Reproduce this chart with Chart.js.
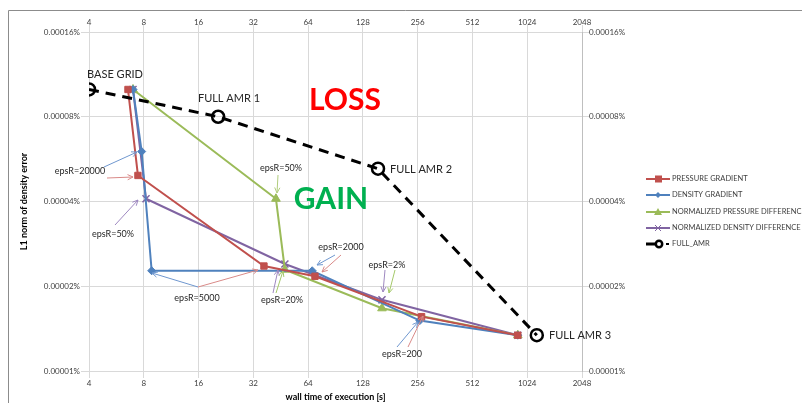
<!DOCTYPE html>
<html>
<head>
<meta charset="utf-8">
<script src="https://cdn.jsdelivr.net/npm/chart.js@4.4.1/dist/chart.umd.min.js"></script>
<style>
  html, body { margin: 0; padding: 0; background: #fff; }
  canvas { display: block; }
</style>
</head>
<body>
<canvas id="grafico" width="802" height="403"></canvas>
<script>
// wall time [s] and L1 error [%]
const timeTicks = [4, 8, 16, 32, 64, 128, 256, 512, 1024, 2048];
const errTicks = [0.00001, 0.00002, 0.00004, 0.00008, 0.00016];

const pressureX = [6.55, 7.43, 36.6, 69.8, 269, 909];
const pressureY = [0.0001, 0.0000495, 0.0000236, 0.0000217, 0.0000156, 0.0000134];
const densityX = [6.98, 7.79, 8.84, 67.4, 263, 909];
const densityY = [0.0001, 0.0000602, 0.0000227, 0.0000227, 0.0000151, 0.0000134];
const normPressX = [6.98, 42.6, 47.7, 163, 909];
const normPressY = [0.0001, 0.0000409, 0.0000229, 0.0000167, 0.0000134];
const normDensX = [6.98, 8.23, 47.7, 163, 909];
const normDensY = [0.0001, 0.0000409, 0.000024, 0.0000179, 0.0000134];
const amrX = [4, 20.5, 155, 1156];
const amrY = [0.0001, 0.00008, 0.0000523, 0.0000134];

const seriesNames = ['PRESSURE GRADIENT', 'DENSITY GRADIENT', 'NORMALIZED PRESSURE DIFFERENCE', 'NORMALIZED DENSITY DIFFERENCE', 'FULL_AMR'];
const cores = ['#C0504D', '#4F81BD', '#9BBB59', '#8064A2', '#000000'];

const pts = (xs, ys) => xs.map((x, i) => ({ x: x, y: ys[i] }));
const FONTE = 'Lato, "Open Sans", sans-serif';

// text labels and arrows drawn on top of the plot
const textos = [
    { t: 'BASE GRID', x: 115, y: 74, size: 11, align: 'center' },
    { t: 'FULL AMR 1', x: 229, y: 98, size: 11, align: 'center' },
    { t: 'FULL AMR 2', x: 390, y: 169, size: 11, align: 'left' },
    { t: 'FULL AMR 3', x: 549, y: 335, size: 11, align: 'left' },
    { t: 'LOSS', x: 345, y: 100, size: 30, align: 'center', bold: true, color: '#FF0000' },
    { t: 'GAIN', x: 331, y: 199, size: 30, align: 'center', bold: true, color: '#00B050' },
    { t: 'epsR=20000', x: 80, y: 171, size: 9, align: 'center' },
    { t: 'epsR=50%', x: 113, y: 234, size: 9, align: 'center' },
    { t: 'epsR=50%', x: 281, y: 168, size: 9, align: 'center' },
    { t: 'epsR=5000', x: 197, y: 298, size: 9, align: 'center' },
    { t: 'epsR=20%', x: 282, y: 300, size: 9, align: 'center' },
    { t: 'epsR=2000', x: 341, y: 247, size: 9, align: 'center' },
    { t: 'epsR=2%', x: 387, y: 265, size: 9, align: 'center' },
    { t: 'epsR=200', x: 402, y: 354, size: 9, align: 'center' }
];
const setas = [
    [104, 167, 137, 152, '#6f97cf'], [107, 178, 133, 177, '#d98a88'],
    [115, 225, 138, 200, '#9e88c0'], [278, 175, 277, 193, '#b0cc7c'],
    [198, 287, 152, 273, '#6f97cf'], [198, 287, 258, 270, '#d98a88'],
    [273, 293, 278, 270, '#9e88c0'], [276, 293, 283, 271, '#a5c96a'],
    [335, 255, 317, 265, '#6f97cf'], [341, 255, 322, 272, '#d98a88'],
    [385, 270, 383, 292, '#9e88c0'], [395, 270, 389, 293, '#a5c96a'],
    [397, 347, 418, 322, '#6f97cf'], [408, 347, 423, 316, '#d98a88']
];

const moldura = {
    id: 'moldura',
    beforeDraw(chart) {
        const c = chart.ctx;
        c.save();
        c.strokeStyle = '#8c8c8c';
        c.lineWidth = 1;
        c.beginPath();
        c.moveTo(8.5, 403); c.lineTo(8.5, 10.5); c.lineTo(802, 10.5);
        c.stroke();
        c.restore();
    }
};

const anotacoes = {
    id: 'anotacoes',
    afterDatasetsDraw(chart) {
        const c = chart.ctx;
        c.save();
        setas.forEach(([x1, y1, x2, y2, cor]) => {
            c.strokeStyle = cor;
            c.lineWidth = 1;
            c.beginPath(); c.moveTo(x1, y1); c.lineTo(x2, y2); c.stroke();
            const a = Math.atan2(y2 - y1, x2 - x1);
            c.beginPath();
            c.moveTo(x2 - 6 * Math.cos(a - 0.45), y2 - 6 * Math.sin(a - 0.45));
            c.lineTo(x2, y2);
            c.lineTo(x2 - 6 * Math.cos(a + 0.45), y2 - 6 * Math.sin(a + 0.45));
            c.stroke();
        });
        textos.forEach(o => {
            c.font = (o.bold ? 'bold ' : '') + o.size + 'px ' + FONTE;
            c.fillStyle = o.color || '#262626';
            c.textAlign = o.align;
            c.textBaseline = 'middle';
            c.fillText(o.t, o.x, o.y);
        });
        c.restore();
    }
};

const legenda = {
    id: 'legenda',
    afterDraw(chart) {
        const c = chart.ctx;
        const ys = [179, 195, 212, 228, 244];
        c.save();
        c.font = '7.5px ' + FONTE;
        c.textBaseline = 'middle';
        c.textAlign = 'left';
        seriesNames.forEach((nome, i) => {
            const y = ys[i];
            const cor = cores[i];
            c.strokeStyle = cor;
            c.fillStyle = cor;
            if (i < 4) {
                c.lineWidth = 2;
                c.beginPath(); c.moveTo(646, y); c.lineTo(670, y); c.stroke();
                if (i === 0) c.fillRect(655, y - 3.5, 7, 7);
                if (i === 1) { c.beginPath(); c.moveTo(658, y - 3); c.lineTo(661, y); c.lineTo(658, y + 3); c.lineTo(655, y); c.closePath(); c.fill(); }
                if (i === 2) { c.beginPath(); c.moveTo(658, y - 4); c.lineTo(662, y + 3); c.lineTo(654, y + 3); c.closePath(); c.fill(); }
                if (i === 3) { c.lineWidth = 1; c.beginPath(); c.moveTo(655, y - 3); c.lineTo(661, y + 3); c.moveTo(661, y - 3); c.lineTo(655, y + 3); c.stroke(); }
                c.fillStyle = '#404040';
                c.fillText(nome, 672, y);
            } else {
                c.lineWidth = 3;
                c.beginPath(); c.moveTo(646, y); c.lineTo(655, y); c.stroke();
                c.lineWidth = 2.5;
                c.beginPath(); c.arc(659, y, 3.2, 0, Math.PI * 2); c.stroke();
                c.fillRect(666, y - 1, 3, 2);
                c.fillStyle = '#404040';
                c.fillText(nome, 672, y);
            }
        });
        c.restore();
    }
};

const fixTicks = vals => scale => { scale.ticks = vals.map(v => ({ value: v })); };
const fitH = s => { s.height = 32; s.paddingLeft = 0; s.paddingRight = 0; };
const grade = '#d9d9d9';
const tickFont = { family: FONTE, size: 8 };

const conjuntos = [
    { x: pressureX, y: pressureY, style: 'rect', r: 4.5, bw: 2 },
    { x: densityX, y: densityY, style: 'rectRot', r: 4, bw: 2 },
    { x: normPressX, y: normPressY, style: 'triangle', r: 5, bw: 2 },
    { x: normDensX, y: normDensY, style: 'crossRot', r: 5, bw: 2 },
    { x: amrX, y: amrY, style: 'circle', r: 6, bw: 3 }
].map((s, i) => ({
    label: seriesNames[i],
    data: pts(s.x, s.y),
    showLine: true,
    tension: 0,
    borderColor: cores[i],
    backgroundColor: i === 4 ? 'rgba(255,255,255,0)' : cores[i],
    borderWidth: s.bw,
    borderDash: i === 4 ? [10, 7] : [],
    pointStyle: s.style,
    pointRadius: s.r,
    pointBorderWidth: i === 4 ? 2.5 : (i === 3 ? 1.5 : 1),
    pointBorderColor: cores[i],
    pointBackgroundColor: i === 4 ? 'rgba(255,255,255,0)' : cores[i],
    order: i === 4 ? 0 : 1
}));

new Chart(document.getElementById('grafico').getContext('2d'), {
    type: 'scatter',
    data: { datasets: conjuntos },
    options: {
        responsive: false,
        animation: false,
        layout: { padding: { left: 0, right: 160, top: 0, bottom: 0 } },
        plugins: { legend: { display: false }, tooltip: { enabled: false } },
        scales: {
            x: {
                type: 'logarithmic', position: 'bottom', min: 4, max: 2048,
                afterBuildTicks: fixTicks(timeTicks),
                afterFit: fitH,
                grid: { color: grade, tickLength: 7 },
                border: { color: grade },
                ticks: { color: '#404040', font: tickFont, padding: 1, maxRotation: 0, autoSkip: false, callback: v => String(v) },
                title: { display: true, text: 'wall time of execution [s]', color: '#000', font: { family: FONTE, size: 9, weight: 'bold' }, padding: { top: 0, bottom: 1 } }
            },
            x2: {
                type: 'logarithmic', position: 'top', min: 4, max: 2048,
                afterBuildTicks: fixTicks(timeTicks),
                afterFit: fitH,
                grid: { color: grade, tickLength: 7, drawOnChartArea: false },
                border: { color: grade },
                ticks: { color: '#404040', font: tickFont, padding: -2, maxRotation: 0, autoSkip: false, callback: v => String(v) }
            },
            y: {
                type: 'logarithmic', position: 'left', min: 0.00001, max: 0.00016,
                afterBuildTicks: fixTicks(errTicks),
                afterFit: s => { s.width = 89; s.paddingTop = 0; s.paddingBottom = 0; },
                grid: { color: grade, tickLength: 8 },
                border: { color: grade },
                ticks: { color: '#404040', font: tickFont, padding: 1, autoSkip: false, callback: v => Number(v).toFixed(5) + '%' },
                title: { display: true, text: 'L1 norm of density error', color: '#000', font: { family: FONTE, size: 9, weight: 'bold' }, padding: { top: 19, bottom: 0 } }
            },
            y2: {
                type: 'logarithmic', position: 'right', min: 0.00001, max: 0.00016,
                afterBuildTicks: fixTicks(errTicks),
                afterFit: s => { s.width = 60; s.paddingTop = 0; s.paddingBottom = 0; },
                grid: { color: grade, tickLength: 7, drawOnChartArea: false },
                border: { color: '#bfbfbf' },
                ticks: { color: '#404040', font: tickFont, padding: 0, autoSkip: false, callback: v => Number(v).toFixed(5) + '%' }
            }
        }
    },
    plugins: [moldura, anotacoes, legenda]
});
</script>
</body>
</html>
